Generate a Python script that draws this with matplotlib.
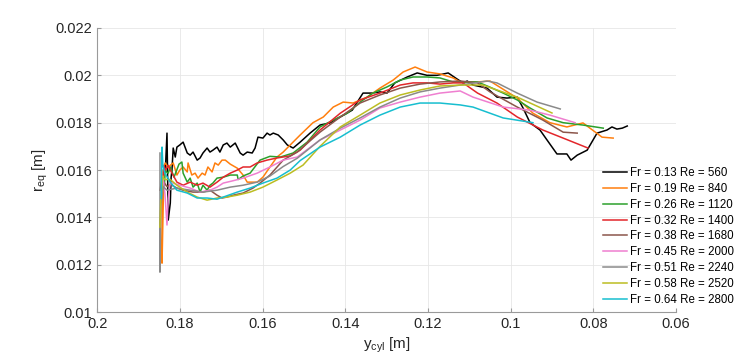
import matplotlib
matplotlib.use('Agg')
import matplotlib.pyplot as plt

plt.rcParams['font.family'] = ['Liberation Sans', 'DejaVu Sans']

# Data (y_cyl [m], r_eq [m])
labels = ['Fr = 0.13 Re = 560', 'Fr = 0.19 Re = 840', 'Fr = 0.26 Re = 1120',
          'Fr = 0.32 Re = 1400', 'Fr = 0.38 Re = 1680', 'Fr = 0.45 Re = 2000',
          'Fr = 0.51 Re = 2240', 'Fr = 0.58 Re = 2520', 'Fr = 0.64 Re = 2800']
colors = ['#000000', '#ff7f0e', '#2ca02c', '#e3262b', '#8c564b',
          '#ef7fd0', '#8a8a8a', '#bcbd22', '#17becf']

x_013 = [0.1835, 0.1831, 0.1828, 0.1823, 0.1821, 0.1819, 0.1816, 0.1811, 0.1807, 0.1800,
         0.1792, 0.1782, 0.1775, 0.1768, 0.1758, 0.1751, 0.1744, 0.1734, 0.1727, 0.1720,
         0.1710, 0.1703, 0.1695, 0.1686, 0.1678, 0.1666, 0.1654, 0.1647, 0.1637, 0.1625,
         0.1618, 0.1611, 0.1599, 0.1589, 0.1582, 0.1574, 0.1562, 0.1550, 0.1540, 0.1526,
         0.1509, 0.1485, 0.1461, 0.1437, 0.1412, 0.1383, 0.1357, 0.1335, 0.1316, 0.1299,
         0.1280, 0.1250, 0.1226, 0.1202, 0.1178, 0.1151, 0.1130, 0.1115, 0.1105, 0.1091,
         0.1057, 0.1033, 0.1009, 0.0984, 0.0970, 0.0953, 0.0929, 0.0912, 0.0888, 0.0864,
         0.0854, 0.0839, 0.0815, 0.0791, 0.0767, 0.0755, 0.0743, 0.0730, 0.0718]
y_013 = [0.01600, 0.01756, 0.01389, 0.01461, 0.01570, 0.01600, 0.01693, 0.01655, 0.01697, 0.01706,
         0.01718, 0.01672, 0.01663, 0.01676, 0.01642, 0.01651, 0.01672, 0.01693, 0.01676, 0.01684,
         0.01697, 0.01676, 0.01706, 0.01714, 0.01697, 0.01714, 0.01672, 0.01663, 0.01676, 0.01672,
         0.01693, 0.01739, 0.01735, 0.01756, 0.01748, 0.01756, 0.01748, 0.01727, 0.01706, 0.01693,
         0.01718, 0.01756, 0.01790, 0.01799, 0.01824, 0.01853, 0.01925, 0.01925, 0.01930, 0.01925,
         0.01968, 0.01993, 0.02010, 0.02000, 0.02000, 0.02010, 0.01985, 0.01968, 0.01976, 0.01959,
         0.01946, 0.01908, 0.01904, 0.01908, 0.01862, 0.01800, 0.01769, 0.01727, 0.01668, 0.01668,
         0.01642, 0.01663, 0.01684, 0.01756, 0.01769, 0.01782, 0.01773, 0.01777, 0.01786]

x_019 = [0.1843, 0.1843, 0.1840, 0.1838, 0.1835, 0.1828, 0.1823, 0.1816, 0.1807, 0.1800,
         0.1792, 0.1782, 0.1780, 0.1771, 0.1763, 0.1756, 0.1746, 0.1739, 0.1732, 0.1722,
         0.1715, 0.1707, 0.1698, 0.1690, 0.1678, 0.1661, 0.1647, 0.1637, 0.1613, 0.1599,
         0.1582, 0.1565, 0.1550, 0.1533, 0.1509, 0.1478, 0.1453, 0.1429, 0.1405, 0.1381,
         0.1347, 0.1316, 0.1284, 0.1260, 0.1231, 0.1202, 0.1171, 0.1139, 0.1122, 0.1080,
         0.1050, 0.0984, 0.0946, 0.0905, 0.0864, 0.0825, 0.0779, 0.0752]
y_019 = [0.01600, 0.01207, 0.01465, 0.01620, 0.01630, 0.01610, 0.01620, 0.01630, 0.01579, 0.01600,
         0.01613, 0.01592, 0.01630, 0.01579, 0.01587, 0.01566, 0.01587, 0.01579, 0.01613, 0.01592,
         0.01630, 0.01621, 0.01642, 0.01642, 0.01625, 0.01608, 0.01579, 0.01549, 0.01549, 0.01570,
         0.01613, 0.01655, 0.01676, 0.01706, 0.01748, 0.01800, 0.01824, 0.01866, 0.01887, 0.01883,
         0.01908, 0.01946, 0.01980, 0.02014, 0.02035, 0.02014, 0.02006, 0.01989, 0.01972, 0.01972,
         0.01976, 0.01904, 0.01840, 0.01800, 0.01782, 0.01799, 0.01739, 0.01735]

x_026 = [0.1840, 0.1838, 0.1835, 0.1831, 0.1828, 0.1823, 0.1814, 0.1802, 0.1795, 0.1792,
         0.1782, 0.1775, 0.1768, 0.1758, 0.1751, 0.1744, 0.1734, 0.1727, 0.1720, 0.1710,
         0.1695, 0.1678, 0.1661, 0.1659, 0.1647, 0.1630, 0.1606, 0.1582, 0.1557, 0.1526,
         0.1492, 0.1461, 0.1429, 0.1395, 0.1364, 0.1333, 0.1299, 0.1267, 0.1236, 0.1202,
         0.1171, 0.1139, 0.1115, 0.1080, 0.1050, 0.1018, 0.0984, 0.0953, 0.0912, 0.0873,
         0.0825, 0.0776]
y_026 = [0.01560, 0.01520, 0.01600, 0.01590, 0.01587, 0.01613, 0.01570, 0.01625, 0.01634, 0.01587,
         0.01549, 0.01566, 0.01528, 0.01545, 0.01507, 0.01536, 0.01515, 0.01536, 0.01545, 0.01566,
         0.01570, 0.01579, 0.01579, 0.01560, 0.01575, 0.01587, 0.01642, 0.01658, 0.01655, 0.01672,
         0.01718, 0.01782, 0.01811, 0.01840, 0.01887, 0.01925, 0.01951, 0.01980, 0.01993, 0.01993,
         0.01989, 0.01972, 0.01972, 0.01972, 0.01950, 0.01925, 0.01896, 0.01862, 0.01820, 0.01800,
         0.01790, 0.01777]

x_032 = [0.1840, 0.1838, 0.1835, 0.1828, 0.1823, 0.1816, 0.1807, 0.1792, 0.1775, 0.1758,
         0.1744, 0.1727, 0.1710, 0.1695, 0.1678, 0.1661, 0.1647, 0.1630, 0.1613, 0.1589,
         0.1565, 0.1533, 0.1509, 0.1461, 0.1412, 0.1364, 0.1316, 0.1267, 0.1236, 0.1202,
         0.1171, 0.1139, 0.1115, 0.1080, 0.1033, 0.0984, 0.0922, 0.0873, 0.0813]
y_032 = [0.01580, 0.01620, 0.01600, 0.01620, 0.01600, 0.01578, 0.01549, 0.01536, 0.01549, 0.01536,
         0.01545, 0.01528, 0.01549, 0.01570, 0.01587, 0.01600, 0.01613, 0.01613, 0.01630, 0.01642,
         0.01651, 0.01660, 0.01684, 0.01769, 0.01840, 0.01896, 0.01925, 0.01959, 0.01968, 0.01968,
         0.01963, 0.01968, 0.01968, 0.01925, 0.01883, 0.01824, 0.01769, 0.01735, 0.01693]

x_038 = [0.1848, 0.1843, 0.1835, 0.1831, 0.1823, 0.1807, 0.1792, 0.1768, 0.1744, 0.1727,
         0.1710, 0.1698, 0.1686, 0.1671, 0.1647, 0.1623, 0.1606, 0.1582, 0.1550, 0.1516,
         0.1461, 0.1412, 0.1364, 0.1316, 0.1267, 0.1219, 0.1171, 0.1122, 0.1080, 0.1050,
         0.0984, 0.0922, 0.0873, 0.0839]
y_038 = [0.01515, 0.01560, 0.01540, 0.01530, 0.01540, 0.01524, 0.01515, 0.01507, 0.01507, 0.01515,
         0.01494, 0.01482, 0.01486, 0.01494, 0.01503, 0.01524, 0.01545, 0.01579, 0.01642, 0.01676,
         0.01760, 0.01824, 0.01883, 0.01917, 0.01946, 0.01963, 0.01972, 0.01976, 0.01968, 0.01930,
         0.01866, 0.01811, 0.01760, 0.01756]

x_045 = [0.1840, 0.1836, 0.1831, 0.1828, 0.1823, 0.1816, 0.1800, 0.1775, 0.1751, 0.1727,
         0.1710, 0.1695, 0.1671, 0.1647, 0.1613, 0.1582, 0.1550, 0.1516, 0.1461, 0.1412,
         0.1364, 0.1316, 0.1267, 0.1219, 0.1171, 0.1122, 0.1091, 0.1018, 0.0953, 0.0905,
         0.0844]
y_045 = [0.01560, 0.01500, 0.01368, 0.01480, 0.01549, 0.01545, 0.01536, 0.01524, 0.01507, 0.01515,
         0.01528, 0.01545, 0.01555, 0.01566, 0.01587, 0.01613, 0.01642, 0.01655, 0.01727, 0.01769,
         0.01811, 0.01862, 0.01887, 0.01908, 0.01925, 0.01934, 0.01908, 0.01866, 0.01853, 0.01832,
         0.01800]

x_051 = [0.1848, 0.1848, 0.1846, 0.1840, 0.1831, 0.1807, 0.1775, 0.1744, 0.1710, 0.1678,
         0.1647, 0.1613, 0.1582, 0.1550, 0.1516, 0.1461, 0.1412, 0.1364, 0.1316, 0.1267,
         0.1219, 0.1171, 0.1122, 0.1057, 0.1033, 0.0984, 0.0936, 0.0880]
y_051 = [0.01672, 0.01169, 0.01450, 0.01530, 0.01515, 0.01524, 0.01515, 0.01507, 0.01515, 0.01528,
         0.01536, 0.01549, 0.01575, 0.01615, 0.01650, 0.01727, 0.01777, 0.01820, 0.01866, 0.01904,
         0.01930, 0.01946, 0.01959, 0.01976, 0.01968, 0.01925, 0.01887, 0.01858]

x_058 = [0.1848, 0.1846, 0.1841, 0.1836, 0.1823, 0.1807, 0.1782, 0.1758, 0.1734, 0.1710,
         0.1686, 0.1661, 0.1630, 0.1599, 0.1565, 0.1533, 0.1502, 0.1461, 0.1412, 0.1364,
         0.1316, 0.1267, 0.1219, 0.1171, 0.1122, 0.1067, 0.0984, 0.0900]
y_058 = [0.01359, 0.01486, 0.01570, 0.01560, 0.01560, 0.01536, 0.01507, 0.01486, 0.01473, 0.01482,
         0.01486, 0.01494, 0.01507, 0.01528, 0.01558, 0.01587, 0.01621, 0.01700, 0.01782, 0.01832,
         0.01883, 0.01917, 0.01938, 0.01955, 0.01959, 0.01959, 0.01908, 0.01841]

x_064 = [0.1845, 0.1843, 0.1841, 0.1836, 0.1823, 0.1807, 0.1782, 0.1758, 0.1734, 0.1710,
         0.1695, 0.1661, 0.1630, 0.1599, 0.1565, 0.1533, 0.1509, 0.1461, 0.1412, 0.1364,
         0.1316, 0.1267, 0.1219, 0.1171, 0.1122, 0.1091, 0.1018, 0.0946]
y_064 = [0.01480, 0.01697, 0.01620, 0.01587, 0.01549, 0.01515, 0.01503, 0.01482, 0.01482, 0.01477,
         0.01486, 0.01507, 0.01524, 0.01545, 0.01566, 0.01600, 0.01640, 0.01697, 0.01739, 0.01790,
         0.01832, 0.01866, 0.01883, 0.01883, 0.01875, 0.01866, 0.01820, 0.01800]

xs = [x_013, x_019, x_026, x_032, x_038, x_045, x_051, x_058, x_064]
ys = [y_013, y_019, y_026, y_032, y_038, y_045, y_051, y_058, y_064]

fig = plt.figure(figsize=(7.47, 3.63), dpi=100)
ax = fig.add_axes([0.130, 0.140, 0.775, 0.783])

for x, y, c, lab in zip(xs, ys, colors, labels):
    ax.plot(x, y, color=c, lw=1.1, label=lab)

ax.set_xlim(0.2, 0.06)
ax.set_ylim(0.01, 0.022)
ax.set_xticks([0.2, 0.18, 0.16, 0.14, 0.12, 0.1, 0.08, 0.06])
ax.set_xticklabels(['0.2', '0.18', '0.16', '0.14', '0.12', '0.1', '0.08', '0.06'])
ax.set_yticks([0.01, 0.012, 0.014, 0.016, 0.018, 0.02, 0.022])
ax.set_yticklabels(['0.01', '0.012', '0.014', '0.016', '0.018', '0.02', '0.022'])

ax.grid(True, color='#e6e6e6', lw=0.6)
ax.set_axisbelow(True)
for s in ['top', 'right']:
    ax.spines[s].set_visible(False)
for s in ['left', 'bottom']:
    ax.spines[s].set_color('#9a9a9a')
ax.tick_params(direction='in', length=3, color='#9a9a9a', labelcolor='#262626',
               labelsize=10.5)

ax.set_xlabel(r'$\mathregular{y_{cyl}}$ [m]', fontsize=11, color='#262626', labelpad=3)
ax.set_ylabel(r'$\mathregular{r_{eq}}$ [m]', fontsize=11, color='#262626', labelpad=4)

fig.legend(loc='upper left', bbox_to_anchor=(0.801, 0.552), frameon=False,
           fontsize=8.3, handlelength=2.1, handletextpad=0.25, labelspacing=0.33,
           borderaxespad=0)

fig.savefig('out.png', dpi=100)
